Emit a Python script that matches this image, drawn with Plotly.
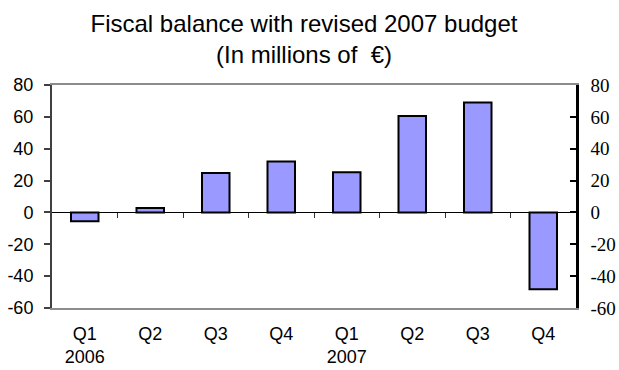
import plotly.graph_objects as go

quarters = ["Q1", "Q2", "Q3", "Q4", "Q1", "Q2", "Q3", "Q4"]
years = ["2006", "", "", "", "2007", "", "", ""]
balance = [-5.5, 2.8, 24.7, 32.0, 25.3, 60.5, 69.0, -48.3]
y_ticks = [-60, -40, -20, 0, 20, 40, 60, 80]
y_tick_text = ["-60", "-40", "-20", "0", "20", "40", "60", "80"]

idx = list(range(len(quarters)))
labels = [q + ("<br>" + y if y else "") for q, y in zip(quarters, years)]
ymin, ymax = -60, 80

fig = go.Figure()
fig.add_trace(go.Bar(
    x=idx, y=balance, width=0.42,
    marker=dict(color="#9999FF", line=dict(color="black", width=2)),
    hoverinfo="skip", showlegend=False,
))
# helper traces so the secondary axes are drawn
fig.add_trace(go.Scatter(x=idx, y=balance, xaxis="x2", yaxis="y", mode="markers",
                         marker=dict(opacity=0), hoverinfo="skip", showlegend=False))
fig.add_trace(go.Scatter(x=idx, y=balance, xaxis="x", yaxis="y2", mode="markers",
                         marker=dict(opacity=0), hoverinfo="skip", showlegend=False))

sans = "Liberation Sans, Arial, sans-serif"
serif = "Liberation Serif, Times New Roman, serif"

W, H = 619, 370

fig.update_layout(
    width=W, height=H,
    margin=dict(l=52, r=43, t=85, b=62, autoexpand=False),
    paper_bgcolor="white", plot_bgcolor="white",
    title=dict(
        text="Fiscal balance with revised 2007 budget<br>(In millions of  €)",
        font=dict(family=sans, size=24, color="black"),
        x=304 / W, xref="container", xanchor="center",
        y=1 - 32 / H, yref="container", yanchor="top",
    ),
    xaxis=dict(
        range=[-0.5, len(idx) - 0.5],
        tickmode="array", tickvals=idx, ticktext=labels,
        ticks="", showgrid=False, zeroline=False, automargin=False,
        showline=True, mirror=True, linecolor="#8c8c8c", linewidth=2,
        tickfont=dict(family=sans, size=18, color="black"),
        ticklabelstandoff=8,
    ),
    xaxis2=dict(
        overlaying="x", anchor="free", position=(0 - ymin) / (ymax - ymin),
        range=[-0.5, len(idx) - 0.5], side="bottom",
        tickmode="array", tickvals=[i + 0.5 for i in idx[:-1]],
        ticks="outside", ticklen=5, tickwidth=1, tickcolor="#333333",
        showticklabels=False, showgrid=False, zeroline=False, showline=False,
    ),
    yaxis=dict(
        range=[ymin, ymax], tickmode="array", tickvals=y_ticks, ticktext=y_tick_text,
        ticks="outside", ticklen=6, tickwidth=1.5, tickcolor="#404040",
        showgrid=False, zeroline=True, zerolinecolor="black", zerolinewidth=1,
        showline=True, linecolor="#404040", linewidth=2, automargin=False,
        tickfont=dict(family=sans, size=18, color="black"),
        ticklabelstandoff=7,
    ),
    yaxis2=dict(
        overlaying="y", side="right", anchor="x",
        range=[ymin, ymax], tickmode="array", tickvals=y_ticks, ticktext=y_tick_text,
        ticks="inside", ticklen=6, tickwidth=2, tickcolor="black",
        showgrid=False, zeroline=False, automargin=False,
        showline=True, linecolor="black", linewidth=2.5,
        tickfont=dict(family=serif, size=19, color="black"),
        ticklabelstandoff=8,
    ),
)

fig.write_html(
    "out.html",
    config={"displayModeBar": False},
    post_script="document.body.style.margin='0';document.body.style.overflow='hidden';",
)
